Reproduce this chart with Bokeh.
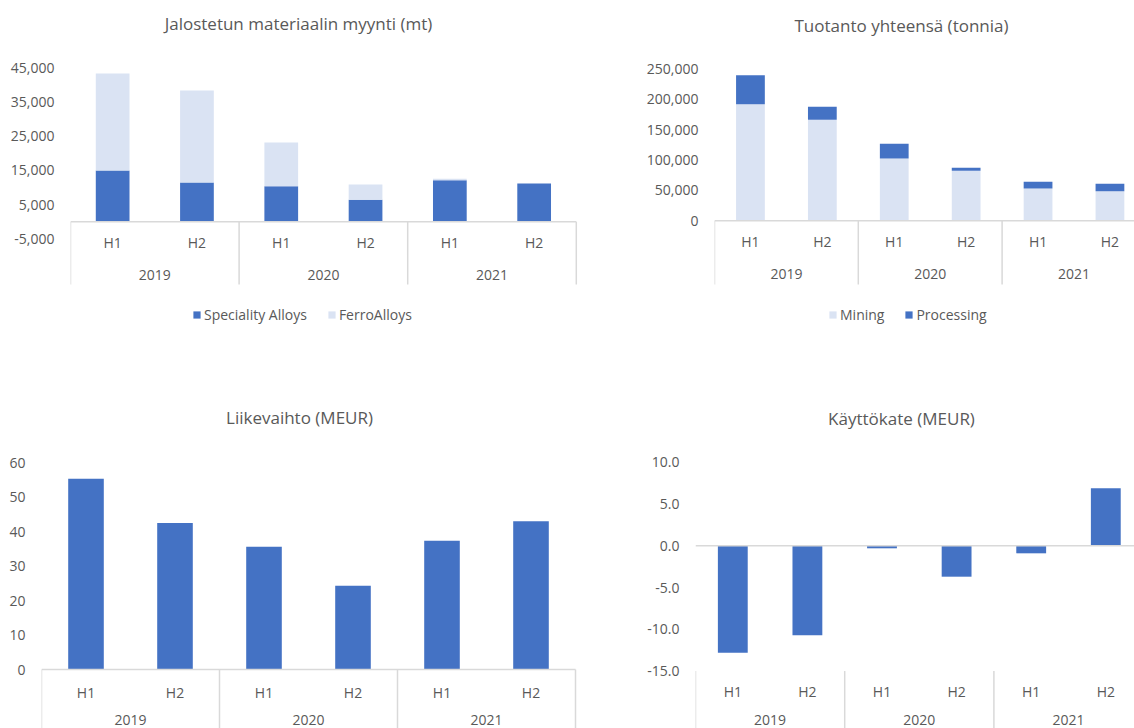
from bokeh.plotting import figure
from bokeh.layouts import column, row
from bokeh.models import Range1d, FixedTicker, NumeralTickFormatter, Legend, LegendItem
from bokeh.core.properties import value
from bokeh.embed import file_html
from bokeh.resources import INLINE

# ---------------- data ----------------
years = ["2019", "2020", "2021"]
halves = ["H1", "H2", "H1", "H2", "H1", "H2"]

speciality = [14950, 11440, 10360, 6390, 12110, 11150]
ferro = [28300, 26850, 12760, 4470, 410, 0]

mining = [191800, 166100, 102500, 82200, 53100, 48700]
processing = [47700, 21400, 24100, 5000, 11000, 12200]

revenue = [55.3, 42.5, 35.6, 24.3, 37.3, 43.0]
ebitda = [-12.8, -10.7, -0.3, -3.7, -0.9, 6.9]

ticks_sales = [-5000, 5000, 15000, 25000, 35000, 45000]
ticks_prod = [0, 50000, 100000, 150000, 200000, 250000]
ticks_rev = [0, 10, 20, 30, 40, 50, 60]
ticks_ebitda = [-15, -10, -5, 0, 5, 10]

titles = ["Jalostetun materiaalin myynti (mt)", "Tuotanto yhteensä (tonnia)",
          "Liikevaihto (MEUR)", "Käyttökate (MEUR)"]

DARK = "#4472C4"
LIGHT = "#DAE3F3"
TEXT = "#595959"
AXIS = "#D9D9D9"
FONT = "Open Sans"

n = len(halves)
xs = [i + 0.5 for i in range(n)]
year_x = [2 * i + 1 for i in range(len(years))]
seps = [2 * i for i in range(len(years) + 1)]


class Panel:
    def __init__(self, fig_w, fig_h, page_x0, page_y0, plot_left, cat_w, zero_y, ppu):
        self.plot_left = plot_left
        self.cat_w = cat_w
        self.zero_y = zero_y
        self.ppu = ppu
        frame_w = fig_w - (plot_left - page_x0)
        x_end = frame_w / cat_w
        y_start = (zero_y - (page_y0 + fig_h)) / ppu
        y_end = (zero_y - page_y0) / ppu
        p = figure(width=fig_w, height=fig_h,
                   x_range=Range1d(0, x_end), y_range=Range1d(y_start, y_end),
                   x_axis_location=None, toolbar_location=None, output_backend="svg",
                   min_border_left=plot_left - page_x0, min_border_right=0,
                   min_border_top=0, min_border_bottom=0)
        p.outline_line_color = None
        p.xgrid.visible = False
        p.ygrid.visible = False
        ax = p.yaxis[0]
        ax.axis_line_color = None
        ax.major_tick_line_color = None
        ax.minor_tick_line_color = None
        ax.major_tick_out = 0
        ax.major_tick_in = 0
        ax.minor_tick_out = 0
        ax.minor_tick_in = 0
        ax.major_label_standoff = 16
        ax.major_label_text_font = FONT
        ax.major_label_text_font_size = "14px"
        ax.major_label_text_color = TEXT
        self.p = p

    def yv(self, ref_y):
        return (self.zero_y - ref_y) / self.ppu

    def xv(self, ref_x):
        return (ref_x - self.plot_left) / self.cat_w

    def text(self, x, y, t, size="14px"):
        self.p.text(x=x, y=y, text=t, text_font=value(FONT), text_font_size=size,
                    text_color=TEXT, text_align="center", text_baseline="middle")

    def category_axis(self, axis_y, sep_top_ref, sep_bottom_ref, h_ref, year_ref, edge_seps):
        p = self.p
        p.segment(x0=[0], y0=[axis_y], x1=[n], y1=[axis_y], line_color=AXIS, line_width=1.5)
        p.segment(x0=edge_seps, y0=[self.yv(sep_top_ref)] * len(edge_seps),
                  x1=edge_seps, y1=[self.yv(sep_bottom_ref)] * len(edge_seps),
                  line_color=AXIS, line_width=1.5)
        self.text(xs, [self.yv(h_ref)] * n, halves)
        self.text(year_x, [self.yv(year_ref)] * len(years), years)

    def title(self, t, cx_ref, cy_ref):
        self.text([self.xv(cx_ref)], [self.yv(cy_ref)], [t], size="17px")


def style_legend(p, items, x):
    lg = Legend(items=items, orientation="horizontal", location=(x, 36),
                glyph_width=9, glyph_height=9, label_standoff=3, spacing=20,
                padding=0, margin=0, border_line_color=None, background_fill_alpha=0,
                label_text_font=FONT, label_text_font_size="14px", label_text_color=TEXT,
                label_height=16)
    p.add_layout(lg)


# ---------------- chart 1: sales ----------------
a = Panel(600, 360, 0, 0, 70, 84.3, 221.2, 0.003426)
src1 = dict(x=xs, spec=speciality, ferro=ferro)
r1 = a.p.vbar_stack(["spec", "ferro"], x="x", width=0.4, source=src1,
                    color=[DARK, LIGHT], line_color=None)
a.p.yaxis.ticker = FixedTicker(ticks=ticks_sales)
a.p.yaxis.formatter = NumeralTickFormatter(format="0,0")
a.category_axis(0, 221.2, 284, 242, 274, seps)
a.title(titles[0], 298, 23)
style_legend(a.p, [LegendItem(label="Speciality Alloys", renderers=[r1[0]]),
                   LegendItem(label="FerroAlloys", renderers=[r1[1]])], 122)

# ---------------- chart 2: production ----------------
b = Panel(534, 360, 600, 0, 714, 71.9, 220.3, 0.000608)
src2 = dict(x=xs, mining=mining, processing=processing)
r2 = b.p.vbar_stack(["mining", "processing"], x="x", width=0.4, source=src2,
                    color=[LIGHT, DARK], line_color=None)
b.p.yaxis.ticker = FixedTicker(ticks=ticks_prod)
b.p.yaxis.formatter = NumeralTickFormatter(format="0,0")
b.category_axis(0, 220.3, 284, 241, 273, seps)
b.title(titles[1], 901, 24.5)
style_legend(b.p, [LegendItem(label="Mining", renderers=[r2[0]]),
                   LegendItem(label="Processing", renderers=[r2[1]])], 114)

# ---------------- chart 3: revenue ----------------
c = Panel(600, 368, 0, 360, 41, 89.0, 669.0, 3.45)
c.p.vbar(x=xs, top=revenue, width=0.4, color=DARK, line_color=None)
c.p.yaxis.ticker = FixedTicker(ticks=ticks_rev)
c.p.yaxis.formatter = NumeralTickFormatter(format="0")
c.category_axis(0, 669.0, 740, 691.7, 719.5, seps)
c.title(titles[2], 299, 417.3)

# ---------------- chart 4: EBITDA ----------------
d = Panel(534, 368, 600, 360, 695, 74.6, 545.3, 8.35)
d.p.vbar(x=xs, top=ebitda, width=0.4, color=DARK, line_color=None)
d.p.yaxis.ticker = FixedTicker(ticks=ticks_ebitda)
d.p.yaxis.formatter = NumeralTickFormatter(format="0.0")
d.p.segment(x0=[0], y0=[0], x1=[n], y1=[0], line_color=AXIS, line_width=1.5)
d.p.segment(x0=seps, y0=[ticks_ebitda[0]] * len(seps), x1=seps, y1=[d.yv(740)] * len(seps),
            line_color=AXIS, line_width=1.5)
d.text(xs, [d.yv(690.7)] * n, halves)
d.text(year_x, [d.yv(719.5)] * len(years), years)
d.title(titles[3], 901, 418.3)

layout = column(row(a.p, b.p, spacing=0), row(c.p, d.p, spacing=0), spacing=0)
open("out.html", "w").write(file_html(layout, INLINE))
